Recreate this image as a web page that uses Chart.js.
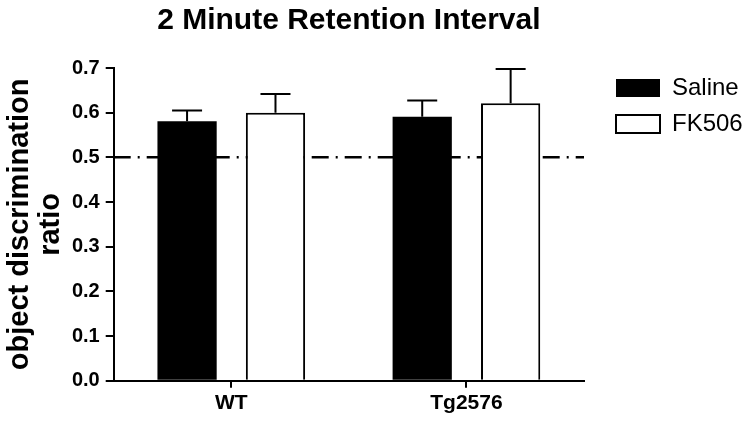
<!DOCTYPE html>
<html>
<head>
<meta charset="utf-8">
<script src="https://cdn.jsdelivr.net/npm/chart.js@4/dist/chart.umd.min.js"></script>
<style>
  html, body { margin: 0; padding: 0; background: #fff; }
  #wrap { width: 748px; height: 421px; }
</style>
</head>
<body>
<div id="wrap"><canvas id="chart"></canvas></div>
<script>
// data
const groups = ['WT', 'Tg2576'];
const salineMeans = [0.581, 0.591];
const salineSem = [0.024, 0.036];
const fk506Means = [0.600, 0.621];
const fk506Sem = [0.042, 0.077];
const chanceLevel = 0.5;
const yTicks = [0, 0.1, 0.2, 0.3, 0.4, 0.5, 0.6, 0.7];

const FONT = "'Liberation Sans', Arial, sans-serif";
Chart.defaults.color = '#000';
Chart.defaults.font.family = FONT;

// dash-dot line at chance level, under the bars
const chanceLine = {
    id: 'chanceLine',
    beforeDatasetsDraw(chart) {
        const ctx = chart.ctx;
        const area = chart.chartArea;
        const y = chart.scales.y.getPixelForValue(chanceLevel);
        ctx.save();
        ctx.strokeStyle = '#000';
        ctx.lineWidth = 2.5;
        ctx.setLineDash([17, 7, 2, 7]);
        ctx.beginPath();
        ctx.moveTo(area.left, y);
        ctx.lineTo(area.right, y);
        ctx.stroke();
        ctx.restore();
    }
};

// upper error bars (mean + SEM)
const errorBars = {
    id: 'errorBars',
    afterDatasetsDraw(chart) {
        const ctx = chart.ctx;
        const yScale = chart.scales.y;
        ctx.save();
        ctx.strokeStyle = '#000';
        ctx.lineWidth = 2;
        chart.data.datasets.forEach((ds, i) => {
            const meta = chart.getDatasetMeta(i);
            meta.data.forEach((bar, j) => {
                const top = yScale.getPixelForValue(ds.data[j] + ds.sem[j]);
                ctx.beginPath();
                ctx.moveTo(bar.x, bar.y);
                ctx.lineTo(bar.x, top);
                ctx.moveTo(bar.x - 15, top);
                ctx.lineTo(bar.x + 15, top);
                ctx.stroke();
            });
        });
        ctx.restore();
    }
};

new Chart(document.getElementById('chart'), {
    type: 'bar',
    data: {
        labels: groups,
        datasets: [{
            label: 'Saline',
            data: salineMeans,
            sem: salineSem,
            backgroundColor: '#000',
            borderColor: '#000',
            borderWidth: 0,
        }, {
            label: 'FK506',
            data: fk506Means,
            sem: fk506Sem,
            backgroundColor: '#fff',
            borderColor: '#000',
            borderWidth: 2,
        }]
    },
    options: {
        responsive: true,
        maintainAspectRatio: false,
        animation: false,
        categoryPercentage: 0.752,
        barPercentage: 0.67,
        layout: { padding: { top: 0, right: 0, bottom: 2, left: 0 } },
        plugins: {
            tooltip: { enabled: false },
            title: {
                display: true,
                fullSize: false,
                text: '2 Minute Retention Interval',
                font: { family: FONT, size: 30, weight: 'bold', lineHeight: 1.2 },
                padding: { top: 3, bottom: 29 },
            },
            legend: {
                position: 'right',
                align: 'start',
                maxWidth: 144,
                title: { display: true, text: '', font: { size: 10, lineHeight: 1 }, padding: { top: 54, bottom: 0 } },
                labels: {
                    boxWidth: 44,
                    boxHeight: 18,
                    padding: 12,
                    font: { family: FONT, size: 24 },
                }
            }
        },
        scales: {
            x: {
                grid: { display: true, drawOnChartArea: false, offset: false, color: '#000', lineWidth: 2, tickLength: 7 },
                border: { display: true, color: '#000', width: 2 },
                ticks: { padding: 3, font: { family: FONT, size: 21, weight: 'bold' } }
            },
            y: {
                min: 0,
                max: 0.7,
                afterBuildTicks: (scale) => { scale.ticks = yTicks.map(v => ({ value: v })); },
                grid: { display: true, drawOnChartArea: false, color: '#000', lineWidth: 2, tickLength: 8 },
                border: { display: true, color: '#000', width: 2 },
                ticks: {
                    padding: 6,
                    font: { family: FONT, size: 20, weight: 'bold' },
                    callback: (v) => Number(v).toFixed(1)
                },
                title: {
                    display: true,
                    text: ['object discrimination', 'ratio'],
                    font: { family: FONT, size: 29, weight: 'bold', lineHeight: 1.05 },
                    padding: { top: 5, bottom: 0 }
                }
            },
            // empty spacer between plot and legend
            gap: {
                type: 'linear',
                position: 'right',
                display: true,
                grid: { display: false },
                border: { display: false },
                ticks: { display: false },
                afterFit: (scale) => { scale.width = 20; }
            }
        }
    },
    plugins: [chanceLine, errorBars]
});
</script>
</body>
</html>
